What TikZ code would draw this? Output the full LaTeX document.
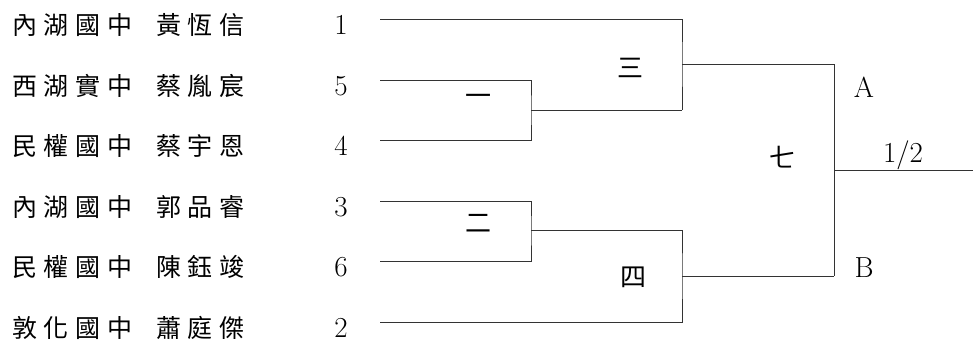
\documentclass[tikz,border=0pt]{standalone}
\usepackage{fontspec}
\usepackage{tikz}
\usetikzlibrary{calc}

\newfontfamily\cjkwide[LetterSpace=27]{Noto Sans CJK TC}
\newfontfamily\cjk{Noto Sans CJK TC}

\begin{document}
\begin{tikzpicture}[x=1pt, y=-1pt,
  bracket/.style={line width=0.8pt, black!80},
  school/.style={anchor=west, inner sep=0pt, font=\cjkwide\fontsize{25}{30}\selectfont},
  seed/.style={inner sep=0pt, font=\fontsize{29}{34}\selectfont},
  matchlabel/.style={inner sep=0pt, font=\cjk\fontsize{26}{30}\selectfont}]

% === Parameters ===
\pgfmathsetmacro{\xschool}{12}
\pgfmathsetmacro{\xname}{156}
\pgfmathsetmacro{\xseed}{341}
\pgfmathsetmacro{\xstart}{380}
\pgfmathsetmacro{\xone}{531}
\pgfmathsetmacro{\xtwo}{682}
\pgfmathsetmacro{\xfinal}{834}
\pgfmathsetmacro{\xend}{973}
\pgfmathsetmacro{\drop}{6}   % text sits a bit below its line

% === Drawing region ===
\useasboundingbox (0,0) rectangle (974,349);

% === Coordinates ===
\coordinate (rowA) at (\xstart, 19);
\coordinate (rowB) at (\xstart, 80);
\coordinate (rowC) at (\xstart, 140);
\coordinate (rowD) at (\xstart, 201);
\coordinate (rowE) at (\xstart, 261);
\coordinate (rowF) at (\xstart, 322);

% round one junctions
\coordinate (winOne) at (\xone, 110);
\coordinate (winTwo) at (\xone, 230);
\coordinate (upOne) at (\xtwo, 110);
\coordinate (downTwo) at (\xtwo, 230);

% round two junctions
\coordinate (winThree) at (\xtwo, 64);
\coordinate (winFour) at (\xtwo, 276);
\coordinate (finA) at (\xfinal, 64);
\coordinate (finB) at (\xfinal, 276);
\coordinate (winSeven) at (\xfinal, 170);
\coordinate (champ) at (\xend, 170);

% === Players ===
\node[school] (schoolA) at (\xschool, {19+\drop}) {內湖國中};
\node[school] (nameA) at (\xname, {19+\drop}) {黃恆信};
\node[seed] (seedA) at (\xseed, {19+\drop}) {1};

\node[school] (schoolB) at (\xschool, {80+\drop}) {西湖實中};
\node[school] (nameB) at (\xname, {80+\drop}) {蔡胤宸};
\node[seed] (seedB) at (\xseed, {80+\drop}) {5};

\node[school] (schoolC) at (\xschool, {140+\drop}) {民權國中};
\node[school] (nameC) at (\xname, {140+\drop}) {蔡宇恩};
\node[seed] (seedC) at (\xseed, {140+\drop}) {4};

\node[school] (schoolD) at (\xschool, {201+\drop}) {內湖國中};
\node[school] (nameD) at (\xname, {201+\drop}) {郭品睿};
\node[seed] (seedD) at (\xseed, {201+\drop}) {3};

\node[school] (schoolE) at (\xschool, {261+\drop}) {民權國中};
\node[school] (nameE) at (\xname, {261+\drop}) {陳鈺竣};
\node[seed] (seedE) at (\xseed, {261+\drop}) {6};

\node[school] (schoolF) at (\xschool, {322+\drop}) {敦化國中};
\node[school] (nameF) at (\xname, {322+\drop}) {蕭庭傑};
\node[seed] (seedF) at (\xseed, {322+\drop}) {2};

% === Brackets ===
% match one and two
\draw[bracket] (rowB) -| (winOne) |- (rowC);
\draw[bracket] (rowD) -| (winTwo) |- (rowE);
\draw[bracket] (winOne) -- (upOne);
\draw[bracket] (winTwo) -- (downTwo);

% match three and four
\draw[bracket] (rowA) -| (winThree) -- (upOne);
\draw[bracket] (rowF) -| (winFour) -- (downTwo);
\draw[bracket] (winThree) -- (finA);
\draw[bracket] (winFour) -- (finB);

% final
\draw[bracket] (finA) -- (finB);
\draw[bracket] (winSeven) -- (champ);

% === Match labels ===
\node[matchlabel] (mOne) at (478, 100) {一};
\node[matchlabel] (mTwo) at (478, 223) {二};
\node[matchlabel] (mThree) at (630, 68) {三};
\node[matchlabel] (mFour) at (633, 277) {四};
\node[matchlabel] (mSeven) at (782, 157) {七};

\node[seed] (sideA) at (864, 87) {A};
\node[seed] (sideB) at (864, 268) {B};
\node[seed] (place) at (903, 155) {1/2};

\end{tikzpicture}
\end{document}
